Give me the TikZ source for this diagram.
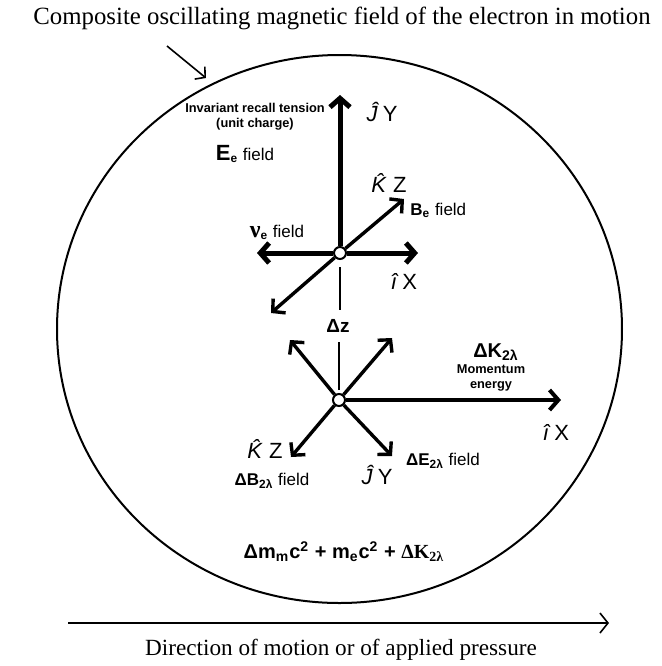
\documentclass[tikz,border=0pt]{standalone}
\usepackage{fontspec}
\setmainfont{Liberation Serif}
\setsansfont{Liberation Sans}
\usetikzlibrary{arrows.meta,positioning}
\tikzset{
rim/.style={line width=1pt},
pointer/.style={line width=0.8pt,-{Straight Barb[length=3.5pt,width=8pt]}},
motion/.style={line width=0.8pt,-{Straight Barb[length=4pt,width=10pt]}},
bigaxis/.style={line width=2.5pt,-{Straight Barb[length=4.4pt,width=10pt]}},
diagaxis/.style={line width=1.7pt,-{Straight Barb[length=4.4pt,width=9.5pt]}},
longaxis/.style={line width=2pt,-{Straight Barb[length=4.4pt,width=10pt]}},
dzline/.style={line width=0.6pt},
dot/.style={circle,draw,fill=white,line width=1pt,inner sep=0pt,minimum size=6pt},
caption/.style={font=\fontsize{12.4}{14}\selectfont,inner sep=0pt},
unitlbl/.style={font=\sffamily\fontsize{11}{13}\selectfont,inner sep=0pt},
fieldlbl/.style={font=\sffamily\fontsize{8.5}{10}\selectfont,inner sep=0pt},
tinylbl/.style={font=\sffamily\bfseries\fontsize{6.4}{7.6}\selectfont,inner sep=0pt,align=center},
sumlbl/.style={font=\sffamily\bfseries\fontsize{10}{12}\selectfont,inner sep=0pt}
}
\newcommand{\hatK}{\textit{\^{K}}}
\newcommand{\hatJ}{\textit{Ĵ}}
\newcommand{\hatI}{\textit{î}}

\begin{document}
\begin{tikzpicture}[x=0.5pt,y=-0.5pt]
\useasboundingbox (0,0) rectangle (662,666);
% outer field
\draw[rim] (339.5,329) ellipse [x radius=282.5, y radius=274];
\node[caption] (title) at (342,18) {Composite oscillating magnetic field of the electron in motion};
\coordinate (ptrA) at (167,46);
\coordinate (ptrB) at (206,78);
\draw[pointer] (ptrA) -- (ptrB);

% upper axes
\node[dot] (o1) at (340,253) {};
\coordinate (jy1) at (340,95);
\coordinate (ix1) at (418,253);
\coordinate (nu1) at (257,253);
\coordinate (kz1) at (404,199);
\coordinate (kzb1) at (271,313);
\draw[bigaxis] (o1) -- (jy1);
\draw[bigaxis] (o1) -- (ix1);
\draw[bigaxis] (o1) -- (nu1);
\draw[diagaxis] (o1) -- (kz1);
\draw[diagaxis] (o1) -- (kzb1);
\node[unitlbl] (jy1lbl) at (382,112) {\hatJ\,Y};
\node[unitlbl] (kz1lbl) at (389,183) {\hatK\,Z};
\node[unitlbl] (ix1lbl) at (404,281) {\hatI\,X};
\node[tinylbl] (tension) at (255,117) {Invariant recall tension\\(unit charge)};
\node[fieldlbl] (efield) at (245,154) {\textbf{\fontsize{11}{12}\selectfont E}\textsubscript{\textbf{e}} field};
\node[fieldlbl,anchor=west] (bfield) at (410,210) {\textbf{B}\textsubscript{\textbf{e}} field};
\node[fieldlbl] (nufield) at (277,232) {{\rmfamily\bfseries\fontsize{12}{12}\selectfont ν}\textsubscript{\textbf{e}} field};

% separation
\coordinate (dzA) at (340,267);
\coordinate (dzB) at (340,310);
\coordinate (dzC) at (339,342);
\coordinate (dzD) at (339,390);
\draw[dzline] (dzA) -- (dzB);
\draw[dzline] (dzC) -- (dzD);
\node[fieldlbl,font=\sffamily\bfseries\fontsize{9.5}{10}\selectfont] (dz) at (338,326) {Δz};

% lower axes
\node[dot] (o2) at (339,400) {};
\coordinate (nw2) at (290,340);
\coordinate (ne2) at (392,338);
\coordinate (sw2) at (291,457);
\coordinate (se2) at (392,456);
\coordinate (ix2) at (561,400);
\draw[diagaxis] (o2) -- (nw2);
\draw[diagaxis] (o2) -- (ne2);
\draw[diagaxis] (o2) -- (sw2);
\draw[diagaxis] (o2) -- (se2);
\draw[longaxis] (o2) -- (ix2);
\node[fieldlbl,font=\sffamily\bfseries\fontsize{10}{11}\selectfont] (dk) at (496,352) {ΔK\textsubscript{2λ}};
\node[tinylbl] (momentum) at (491,378) {Momentum\\energy};
\node[unitlbl] (ix2lbl) at (556,432) {\hatI\,X};
\node[unitlbl] (kz2lbl) at (265,449) {\hatK\,Z};
\node[unitlbl] (jy2lbl) at (377,475) {\hatJ\,Y};
\node[fieldlbl] (bfield2) at (272,481) {\textbf{ΔB}\textsubscript{\textbf{2λ}} field};
\node[fieldlbl] (efield2) at (443,461) {\textbf{ΔE}\textsubscript{\textbf{2λ}} field};
\node[sumlbl] (energysum) at (344,552) {Δm\textsubscript{m}c\textsuperscript{2} + m\textsubscript{e}c\textsuperscript{2} + {\rmfamily ΔK\textsubscript{2λ}}};

% motion
\coordinate (motA) at (68,623);
\coordinate (motB) at (609,623);
\draw[motion] (motA) -- (motB);
\node[caption,font=\fontsize{11.6}{14}\selectfont] (motlbl) at (341,650) {Direction of motion or of applied pressure};
\end{tikzpicture}
\end{document}
